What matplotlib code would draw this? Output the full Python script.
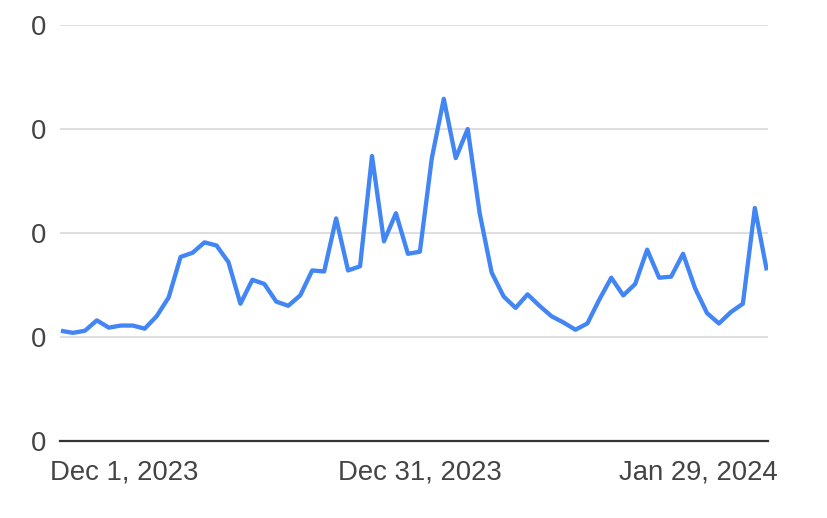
import matplotlib
matplotlib.use("Agg")
import matplotlib.pyplot as plt

# Data (index-based, ~60 evenly spaced samples)
values = [10.6, 10.4, 10.6, 11.6, 10.9, 11.1, 11.1, 10.8, 12.0, 13.8,
          17.7, 18.1, 19.1, 18.8, 17.2, 13.2, 15.5, 15.1, 13.4, 13.0,
          14.0, 16.4, 16.3, 21.4, 16.4, 16.8, 27.4, 19.2, 21.9, 18.0,
          18.2, 27.2, 32.9, 27.2, 30.0, 21.9, 16.2, 13.9, 12.8, 14.1,
          13.0, 12.0, 11.4, 10.7, 11.3, 13.6, 15.7, 14.0, 15.1, 18.4,
          15.7, 15.8, 18.0, 14.7, 12.3, 11.3, 12.4, 13.2, 22.4, 16.4]
x_tick_positions = [5.3, 30.0, 53.3]
x_tick_labels = ["Dec 1, 2023", "Dec 31, 2023", "Jan 29, 2024"]
y_ticks = [0, 10, 20, 30, 40]
y_tick_labels = ["0", "0", "0", "0", "0"]

plt.rcParams['font.family'] = ['Liberation Sans', 'DejaVu Sans']

fig = plt.figure(figsize=(8.28, 5.18), dpi=100)
ax = fig.add_axes([60/828, 77/518, 708/828, 416/518])

x = list(range(len(values)))
ax.plot(x, values, color="#4285F4", linewidth=3.1, solid_joinstyle="round",
        solid_capstyle="butt", zorder=3)

ax.set_xlim(-0.08, 59.1)
ax.set_ylim(0, 40)

ax.set_yticks(y_ticks)
ax.set_yticklabels(y_tick_labels)
ax.set_xticks(x_tick_positions)
ax.set_xticklabels(x_tick_labels)

for spine in ["top", "right", "left"]:
    ax.spines[spine].set_visible(False)
ax.spines["bottom"].set_color("#333333")
ax.spines["bottom"].set_linewidth(1.6)
ax.spines["bottom"].set_zorder(4)

ax.grid(axis="y", color="#d9d9d9", linewidth=1.2, zorder=0)
ax.set_axisbelow(True)

ax.tick_params(axis="both", length=0, labelsize=19.8, colors="#444444")
ax.tick_params(axis="y", pad=10)
ax.tick_params(axis="x", pad=13)

fig.savefig("out.png", dpi=100)
